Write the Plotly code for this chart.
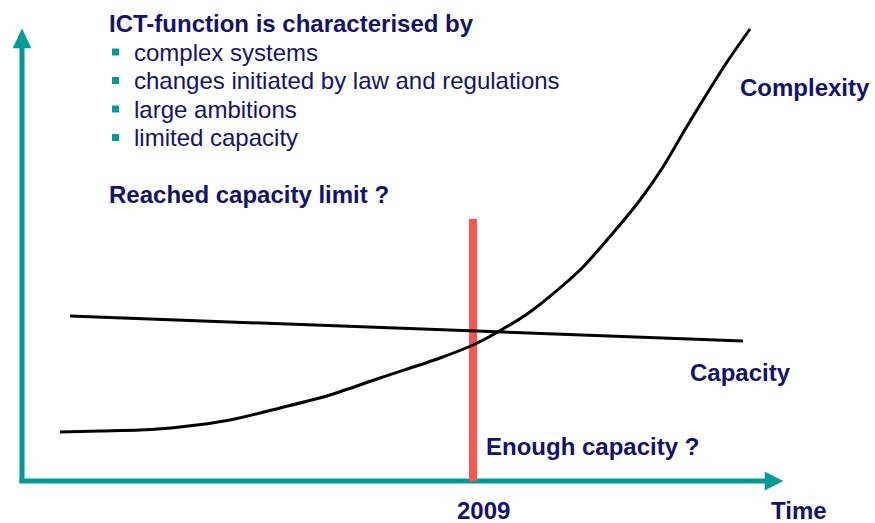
import plotly.graph_objects as go

# ---- data (chart units: x = time position, y = level measured downward from top) ----
time_complexity = [60, 100, 140, 180, 230, 280, 330, 380, 440, 473, 496, 530, 580, 613, 640, 663, 683, 703, 727, 750]
complexity = [432, 431, 430, 427, 420, 408, 395, 378, 358, 345, 333, 312, 270, 233, 200, 167, 133, 100, 62, 29]

time_capacity = [70, 743]
capacity = [316, 341]

year_x = 473
year_span = [219, 481]

bullets = ["complex systems", "changes initiated by law and regulations",
           "large ambitions", "limited capacity"]
bullet_y = [52, 80.5, 109, 137.5]

# ---- styles ----
TEAL = "#009B95"
NAVY = "#12126E"
RED = "#FF5252"
FONT = "Liberation Sans, Arial, sans-serif"

fig = go.Figure()

# axes (teal) with arrowheads
fig.add_trace(go.Scatter(x=[22, 22], y=[483, 46], mode="lines",
                         line=dict(color=TEAL, width=5), hoverinfo="skip"))
fig.add_trace(go.Scatter(x=[19.5, 767], y=[481, 481], mode="lines",
                         line=dict(color=TEAL, width=5), hoverinfo="skip"))
fig.add_trace(go.Scatter(x=[13, 22, 31, 13], y=[48, 29, 48, 48], mode="lines",
                         fill="toself", fillcolor=TEAL, line=dict(color=TEAL, width=0.5),
                         hoverinfo="skip"))
fig.add_trace(go.Scatter(x=[765, 783, 765, 765], y=[472, 481, 490, 472], mode="lines",
                         fill="toself", fillcolor=TEAL, line=dict(color=TEAL, width=0.5),
                         hoverinfo="skip"))

# red 2009 marker
fig.add_trace(go.Scatter(x=[year_x, year_x], y=year_span, mode="lines",
                         line=dict(color=RED, width=8), hoverinfo="skip"))

# capacity line
fig.add_trace(go.Scatter(x=time_capacity, y=capacity, mode="lines",
                         line=dict(color="black", width=3), hoverinfo="skip"))

# complexity curve
fig.add_trace(go.Scatter(x=time_complexity, y=complexity, mode="lines",
                         line=dict(color="black", width=3, shape="spline", smoothing=0.8),
                         hoverinfo="skip"))

# bullet squares
fig.add_trace(go.Scatter(x=[115.5] * len(bullets), y=bullet_y, mode="markers",
                         marker=dict(symbol="square", size=7, color=TEAL),
                         hoverinfo="skip"))

def txt(x, y, s, bold=True, anchor="left"):
    fig.add_annotation(x=x, y=y, text=f"<b>{s}</b>" if bold else s, showarrow=False,
                       xanchor=anchor, yanchor="middle", xref="x", yref="y", borderpad=0,
                       font=dict(family=FONT, size=24, color=NAVY))

txt(108, 23, "ICT-function is characterised by")
for s, y in zip(bullets, bullet_y):
    txt(133, y, s, bold=False)
txt(108, 194, "Reached capacity limit ?")
txt(739, 87, "Complexity")
txt(689, 372, "Capacity")
txt(485, 446, "Enough capacity ?")
txt(483, 510, "2009", anchor="center")
txt(770, 510, "Time")

fig.update_layout(
    width=875, height=523,
    margin=dict(l=0, r=0, t=0, b=0),
    paper_bgcolor="white", plot_bgcolor="white",
    showlegend=False,
    xaxis=dict(range=[0, 875], visible=False, fixedrange=True),
    yaxis=dict(range=[523, 0], visible=False, fixedrange=True),
)

fig.write_html("out.html", config={"displayModeBar": False},
               post_script="document.body.style.margin='0';document.body.style.overflow='hidden';")
